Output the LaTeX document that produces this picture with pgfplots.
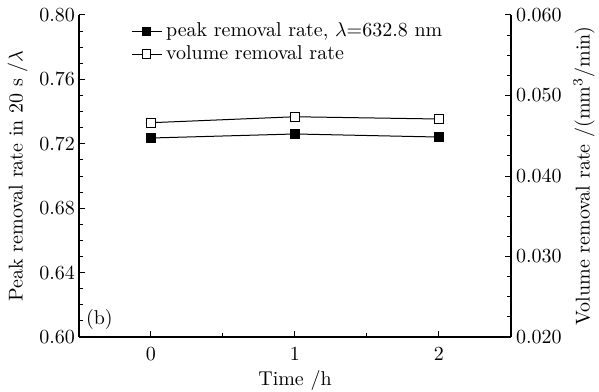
\documentclass[border=0pt]{standalone}
\usepackage{pgfplots}
\pgfplotsset{compat=1.18}
\begin{document}
\begin{tikzpicture}
\useasboundingbox (-39.5pt,-27pt) rectangle (260pt,168.5pt);
\pgfplotsset{
  common/.style={
    scale only axis, width=216pt, height=161pt,
    xmin=-0.5, xmax=2.5,
    tick align=inside,
    major tick length=3pt, minor tick length=1.8pt,
    every tick/.style={black, line width=0.5pt},
    axis line style={line width=0.6pt},
    tick label style={font=\normalsize},
    label style={font=\normalsize},
  }
}
\begin{axis}[common,
  axis y line*=left,
  axis x line*=bottom,
  xtick={0,1,2}, minor x tick num=1,
  ymin=0.60, ymax=0.80,
  ytick={0.60,0.64,...,0.801}, minor y tick num=3,
  yticklabel style={/pgf/number format/fixed, /pgf/number format/fixed zerofill,
    /pgf/number format/precision=2, xshift=1.5pt},
  xticklabel style={yshift=-2pt},
  xlabel={Time /h},
  ylabel={Peak removal rate in 20 s /$\lambda$},
  xlabel style={yshift=2pt},
  ylabel style={yshift=-1pt},
  legend style={at={(0.115,0.995)}, anchor=north west, draw=none, fill=none,
    font=\normalsize, row sep=-1pt, inner sep=1pt},
  legend cell align=left,
  legend image code/.code={
    \draw[black, line width=0.5pt] (0pt,0pt) -- (15pt,0pt);
    \draw[#1] plot coordinates {(7.5pt,0pt)};
  },
]
\addplot[black, line width=0.5pt, mark=square*, mark size=2.2pt,
  mark options={fill=black}] coordinates {(0,0.7236) (1,0.7261) (2,0.7242)};
\addlegendentry{peak removal rate, $\lambda$=632.8 nm}
\addlegendimage{black, line width=0.5pt, mark=square*, mark size=2.2pt, mark options={fill=white}}
\addlegendentry{volume removal rate}
\node[anchor=south west, font=\normalsize] at (axis cs:-0.5,0.60) {(b)};
\end{axis}
\begin{axis}[common,
  axis y line*=right,
  axis x line=none,
  ymin=0.020, ymax=0.060,
  ytick={0.020,0.030,...,0.0601}, minor y tick num=3,
  yticklabel style={/pgf/number format/fixed, /pgf/number format/fixed zerofill,
    /pgf/number format/precision=3, xshift=-1pt},
  scaled y ticks=false,
  ylabel={Volume removal rate /(mm$^3$/min)},
  ylabel style={yshift=1pt},
]
\addplot[black, line width=0.5pt, mark=square*, mark size=2.2pt,
  mark options={fill=white}] coordinates {(0,0.04662) (1,0.04736) (2,0.04708)};
\end{axis}
\end{tikzpicture}
\end{document}
